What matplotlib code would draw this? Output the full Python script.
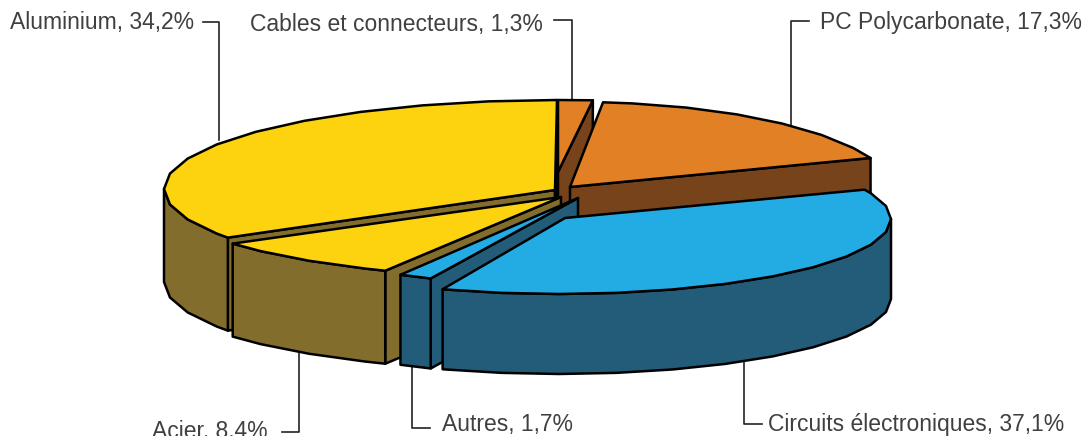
import numpy as np
import matplotlib
matplotlib.use('Agg')
import matplotlib.pyplot as plt
from matplotlib.patches import Polygon

plt.rcParams['font.family'] = ['Liberation Sans', 'DejaVu Sans']

# shares, clockwise from 12 o'clock
names = ['Cables et connecteurs', 'PC Polycarbonate', 'Circuits électroniques',
         'Autres', 'Acier', 'Aluminium']
shares = [1.3, 17.3, 37.1, 1.7, 8.4, 34.2]

# look of each slice (same order as names)
tops = ['#E28025', '#E28025', '#22ACE3', '#22ACE3', '#FDD20E', '#FDD20E']
sides = ['#76431A', '#76431A', '#235C78', '#235C78', '#826D2C', '#826D2C']
centers = [(558, 190), (577, 194), (559, 219), (539, 197), (561, 201), (557, 189)]
apexes = [(558, 172), (570, 187), (565, 218), (578, 198), (561, 197), (555, 190)]
radii = [(427, 90), (319, 92), (332, 75), (309, 87), (392, 78), (393, 89)]
depths = [85, 45, 80, 90, 93, 93]
draw_order = [0, 1, 5, 4, 3, 2]

# text box left edge / centre y, then the leader line points
label_pos = [(250, 24), (820, 23), (768, 424), (442, 424), (152, 431), (10, 23)]
leaders = [
    [(554, 20), (572, 20), (572, 100)],
    [(809, 21), (791, 21), (791, 125)],
    [(762, 424), (744, 424), (744, 360)],
    [(430, 428), (412, 428), (412, 364)],
    [(282, 432), (299, 432), (299, 345)],
    [(203, 22), (219, 22), (219, 140)],
]


def arc(i, a0, a1, step=10):
    inner = [a for a in np.arange(0, 361, step) if a0 + 0.5 < a < a1 - 0.5]
    th = np.radians([a0] + inner + [a1])
    cx, cy = centers[i]
    rx, ry = radii[i]
    return np.column_stack([cx + rx * np.sin(th), cy - ry * np.cos(th)])


fig = plt.figure(figsize=(10.88, 4.36), dpi=100)
ax = fig.add_axes([0, 0, 1, 1])
ax.set_xlim(0, 1088)
ax.set_ylim(436, 0)
ax.axis('off')

edges = np.concatenate([[0], np.cumsum(shares)]) / sum(shares) * 360

for pts in leaders:
    pts = np.array(pts)
    ax.plot(pts[:, 0], pts[:, 1], color='#222222', lw=1.2, zorder=1)

z = 2
for i in draw_order:
    a0, a1 = edges[i], edges[i + 1]
    outer = arc(i, a0, a1)
    apex = np.array(apexes[i], float)
    down = np.array([0, depths[i]])
    kw = dict(edgecolor='black', lw=1.8, joinstyle='round')

    # cut faces, only the ones turned towards the viewer
    visible = []
    if np.sin(np.radians(a0)) < 0:
        visible.append(outer[0])
    if np.sin(np.radians(a1)) > 0:
        visible.append(outer[-1])
    for p in visible:
        face = np.array([apex, p, p + down, apex + down])
        ax.add_patch(Polygon(face, facecolor=sides[i], zorder=z, **kw))
    # rim, front half only
    lo, hi = max(a0, 90), min(a1, 270)
    if lo < hi:
        rim = arc(i, lo, hi)
        face = np.vstack([rim, (rim + down)[::-1]])
        ax.add_patch(Polygon(face, facecolor=sides[i], zorder=z, **kw))
    # top
    ax.add_patch(Polygon(np.vstack([apex, outer]), facecolor=tops[i], zorder=z + 1, **kw))
    z += 2

for name, share, (x, y) in zip(names, shares, label_pos):
    txt = name + ', ' + f'{share:.1f}'.replace('.', ',') + '%'
    ax.text(x, y, txt, fontsize=16.5, color='#404040', ha='left', va='center', zorder=30)

fig.savefig('out.png', dpi=100)
